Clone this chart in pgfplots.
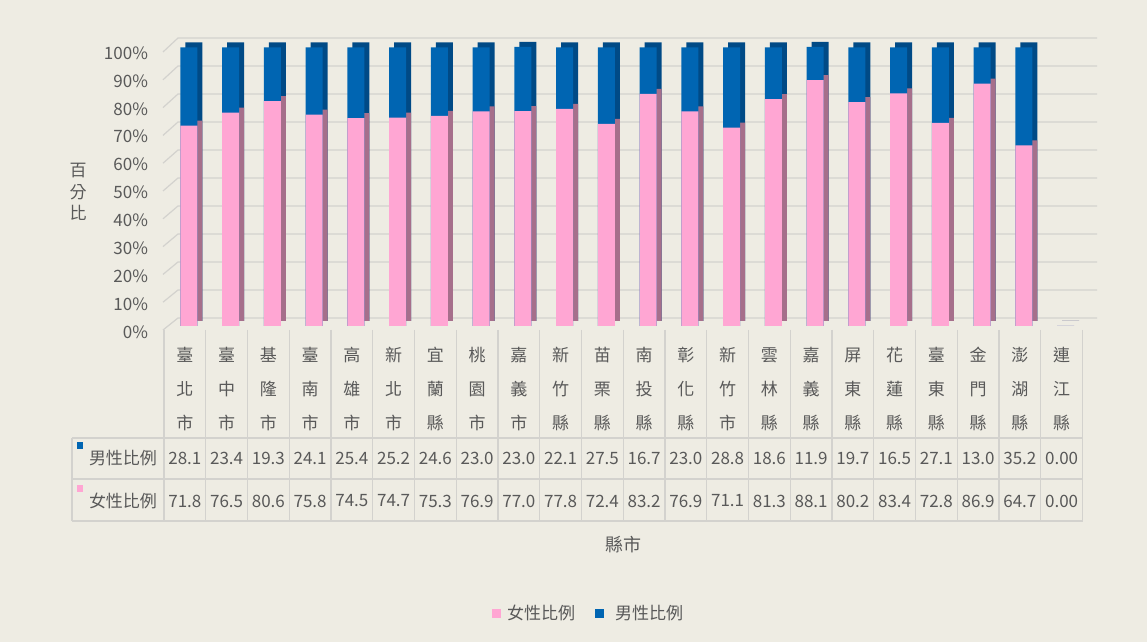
\documentclass[border=0pt]{standalone}
\usepackage{pgfplots}
\pgfplotsset{compat=1.18}
\usepackage{pgfplotstable}
\usepackage{fontspec}
\setmainfont{Noto Sans CJK TC}
\definecolor{bg}{HTML}{EEECE3}
\definecolor{pinkF}{HTML}{FFA6D3}
\definecolor{pinkS}{HTML}{A66F8B}
\definecolor{blueF}{HTML}{0065B2}
\definecolor{blueS}{HTML}{004A86}
\definecolor{txt}{HTML}{595959}
\definecolor{gridc}{HTML}{D3D2CE}

\pgfplotstableread{
x f m
0 71.8 28.1
1 76.5 23.4
2 80.6 19.3
3 75.8 24.1
4 74.5 25.4
5 74.7 25.2
6 75.3 24.6
7 76.9 23.0
8 77.0 23.0
9 77.8 22.1
10 72.4 27.5
11 83.2 16.7
12 76.9 23.0
13 71.1 28.8
14 81.3 18.6
15 88.1 11.9
16 80.2 19.7
17 83.4 16.5
18 72.8 27.1
19 86.9 13.0
20 64.7 35.2
21 0 0
}\data

\begin{document}
\begin{tikzpicture}
\begin{scope}[x=0.5pt,y=-0.5pt,yshift=321pt]
\fill[bg] (0,0) rectangle (1147,642);
\foreach \v in {0,10,...,100}{
  \pgfmathsetmacro\yf{330-2.78*\v}
  \pgfmathsetmacro\yb{318-2.8*\v}
  \draw[gridc, line width=0.6pt] (163,\yf) -- (178,\yb) -- (1097,\yb);
}
\end{scope}

% shadow (side/top faces)
\begin{axis}[at={(82pt,160.5pt)}, anchor=south west, scale only axis,
  width=466.5pt, height=139.5pt, xmin=-0.5, xmax=21.85, ymin=0, ymax=100,
  hide axis, ybar, bar width=8.5pt, clip=false]
\addplot[fill=blueS, draw=none, bar shift=4.5pt] table[x=x, y expr=\thisrow{f}+\thisrow{m}] {\data};
\addplot[fill=pinkS, draw=none, bar shift=4.5pt] table[x=x, y=f] {\data};
\end{axis}

% front faces
\begin{axis}[at={(82pt,158pt)}, anchor=south west, scale only axis,
  width=466.5pt, height=139.5pt, xmin=-0.5, xmax=21.85, ymin=0, ymax=100,
  ybar, bar width=8.5pt, clip=false,
  axis line style={draw=none}, major tick length=0pt,
  xtick=\empty, ytick={0,10,...,100},
  yticklabel={\pgfmathprintnumber{\tick}\%},
  yticklabel style={font=\fontsize{8.5}{10}\selectfont, text=txt, xshift=-4.5pt, yshift=-3pt},
  /pgf/number format/assume math mode=true]
\addplot[fill=blueF, draw=none, bar shift=2pt] table[x=x, y expr=\thisrow{f}+\thisrow{m}] {\data};
\addplot[fill=pinkF, draw=none, bar shift=2pt] table[x=x, y=f] {\data};
\end{axis}

\begin{scope}[x=0.5pt,y=-0.5pt,yshift=321pt,
  every node/.style={text=txt, font=\fontsize{8.5}{17}\selectfont, inner sep=0pt}]
\foreach \i in {0,...,22} \draw[gridc, line width=0.6pt] ({164+41.75*\i},330) -- ({164+41.75*\i},521);
\draw[gridc, line width=0.6pt] (72,438) -- (1083,438);
\draw[gridc, line width=0.6pt] (72,479) -- (1083,479);
\draw[gridc, line width=0.6pt] (72,521) -- (1083,521);
\draw[gridc, line width=0.6pt] (72,438) -- (72,521);
\foreach \n [count=\i from 0] in {{臺\\北\\市},{臺\\中\\市},{基\\隆\\市},{臺\\南\\市},{高\\雄\\市},{新\\北\\市},{宜\\蘭\\縣},{桃\\園\\市},{嘉\\義\\市},{新\\竹\\縣},{苗\\栗\\縣},{南\\投\\縣},{彰\\化\\縣},{新\\竹\\市},{雲\\林\\縣},{嘉\\義\\縣},{屏\\東\\縣},{花\\蓮\\縣},{臺\\東\\縣},{金\\門\\縣},{澎\\湖\\縣},{連\\江\\縣}}
  \node[align=center] at ({164+41.75*(\i+0.5)},389) {\n};
\foreach \n [count=\i from 0] in {28.1,23.4,19.3,24.1,25.4,25.2,24.6,23.0,23.0,22.1,27.5,16.7,23.0,28.8,18.6,11.9,19.7,16.5,27.1,13.0,35.2,0.00}
  \node at ({164+41.75*(\i+0.5)},458) {\n};
\foreach \n [count=\i from 0] in {71.8,76.5,80.6,75.8,74.5,74.7,75.3,76.9,77.0,77.8,72.4,83.2,76.9,71.1,81.3,88.1,80.2,83.4,72.8,86.9,64.7,0.00}
  \node at ({164+41.75*(\i+0.5)},501) {\n};
\fill[blueF] (77,442) rectangle (83,449);
\node at (123,458) {男性比例};
\fill[pinkF] (77,485) rectangle (83,492);
\node at (123,501) {女性比例};
\node[font=\fontsize{9}{10}\selectfont] at (623,545) {縣市};
\node[align=center, font=\fontsize{8.5}{10.75}\selectfont] at (78,192) {百\\分\\比};
\fill[pinkF] (492,609) rectangle (501,618);
\node at (541,613) {女性比例};
\fill[blueF] (595,609) rectangle (604,618);
\node at (649,613) {男性比例};
\end{scope}
\end{tikzpicture}
\end{document}
